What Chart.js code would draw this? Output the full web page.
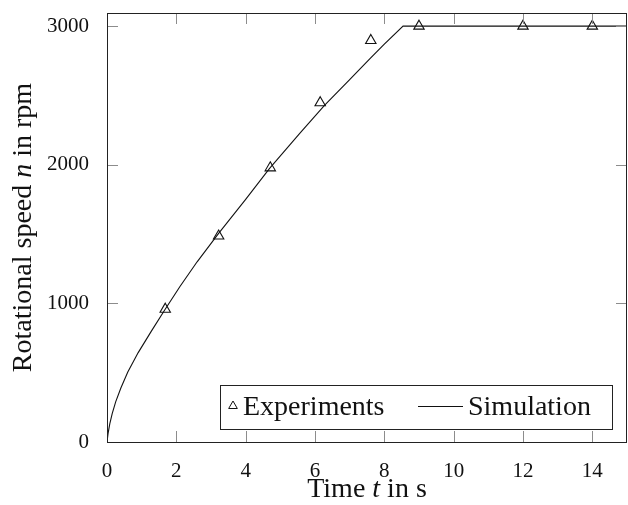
<!DOCTYPE html>
<html>
<head>
<meta charset="utf-8">
<script src="https://cdn.jsdelivr.net/npm/chart.js@4.4.1/dist/chart.umd.min.js"></script>
<style>
  html, body { margin: 0; padding: 0; background: #fff; }
  #wrap { width: 628px; height: 505px; position: relative; }
</style>
</head>
<body>
<div id="wrap"><canvas id="speedChart" width="628" height="505"></canvas></div>
<script>
// ── Data ─────────────────────────────────────────────────────
const expTime  = [1.68, 3.22, 4.71, 6.15, 7.61, 9.0, 12.0, 14.0];
const expSpeed = [958, 1486, 1978, 2448, 2897, 3000, 3000, 3000];

const simTime  = [0, 0.03, 0.08, 0.15, 0.25, 0.4, 0.6, 0.9, 1.28, 1.66, 2.1, 2.6, 3.22,
                  4.0, 4.69, 5.56, 6.28, 7.0, 7.6, 8.0, 8.54, 15];
const simSpeed = [0, 60, 130, 205, 290, 390, 505, 645, 800, 950, 1120, 1300, 1505,
                  1750, 1974, 2226, 2430, 2615, 2770, 2870, 3000, 3000];

const xTicks = [0, 2, 4, 6, 8, 10, 12, 14];
const yTicks = [0, 1000, 2000, 3000];

const SERIF = "'Liberation Serif', 'Times New Roman', serif";
const TICK_FONT = 21;
const TITLE_FONT = 28;

// ── Helpers ──────────────────────────────────────────────────
function drawMixed(ctx, parts, cx, cy) {
  // parts: [text, italic]
  const fonts = parts.map(([, it]) => `${it ? "italic " : ""}${TITLE_FONT}px ${SERIF}`);
  let total = 0;
  const widths = parts.map(([t], i) => { ctx.font = fonts[i]; const w = ctx.measureText(t).width; total += w; return w; });
  let x = cx - total / 2;
  ctx.textAlign = "left";
  ctx.textBaseline = "alphabetic";
  parts.forEach(([t], i) => { ctx.font = fonts[i]; ctx.fillText(t, x, cy); x += widths[i]; });
}

function drawTriangle(ctx, x, y, r) {
  ctx.beginPath();
  ctx.moveTo(x, y - r);
  ctx.lineTo(x + r * Math.cos(Math.PI / 6), y + r / 2);
  ctx.lineTo(x - r * Math.cos(Math.PI / 6), y + r / 2);
  ctx.closePath();
  ctx.stroke();
}

function noPadding(s) {
  s.paddingTop = 0; s.paddingBottom = 0; s.paddingLeft = 0; s.paddingRight = 0;
}

// ── Frame, inward ticks, axis titles and legend ──────────────
const framePlugin = {
  id: "frame",
  afterDatasetsDraw(chart) {
    const { ctx, chartArea: a, scales } = chart;
    ctx.save();
    ctx.strokeStyle = "#8c8c8c";
    ctx.lineWidth = 1;
    const tl = 11;
    xTicks.forEach((v) => {
      const px = Math.round(scales.x.getPixelForValue(v)) + 0.5;
      ctx.beginPath();
      ctx.moveTo(px, a.bottom); ctx.lineTo(px, a.bottom - tl);
      ctx.moveTo(px, a.top);    ctx.lineTo(px, a.top + tl);
      ctx.stroke();
    });
    yTicks.forEach((v) => {
      const py = Math.round(scales.y.getPixelForValue(v)) + 0.5;
      ctx.beginPath();
      ctx.moveTo(a.left, py);  ctx.lineTo(a.left + tl, py);
      ctx.moveTo(a.right, py); ctx.lineTo(a.right - tl, py);
      ctx.stroke();
    });
    ctx.strokeStyle = "#222";
    ctx.strokeRect(Math.round(a.left) + 0.5, Math.round(a.top) + 0.5,
                   Math.round(a.right - a.left) - 1, Math.round(a.bottom - a.top));

    // Axis titles
    ctx.fillStyle = "#111";
    drawMixed(ctx, [["Time ", false], ["t", true], [" in s", false]],
              (a.left + a.right) / 2, 497);
    ctx.save();
    ctx.translate(31, (a.top + a.bottom) / 2);
    ctx.rotate(-Math.PI / 2);
    drawMixed(ctx, [["Rotational speed ", false], ["n", true], [" in rpm", false]], 0, 0);
    ctx.restore();

    // Legend box (lower right)
    const lx = 220, ly = 385, lw = 392, lh = 44;
    ctx.fillStyle = "#fff";
    ctx.fillRect(lx, ly, lw, lh);
    ctx.strokeStyle = "#222";
    ctx.strokeRect(lx + 0.5, ly + 0.5, lw, lh);
    ctx.strokeStyle = "#111";
    drawTriangle(ctx, 233, 406, 5);
    ctx.beginPath();
    ctx.moveTo(418, 406.5); ctx.lineTo(463, 406.5);
    ctx.stroke();
    ctx.fillStyle = "#111";
    ctx.font = `${TITLE_FONT}px ${SERIF}`;
    ctx.textAlign = "left";
    ctx.textBaseline = "alphabetic";
    ctx.fillText("Experiments", 243, 415);
    ctx.fillText("Simulation", 468, 415);
    ctx.restore();
  },
};

// ── Chart ────────────────────────────────────────────────────
new Chart(document.getElementById("speedChart"), {
  type: "scatter",
  data: {
    datasets: [
      {
        label: "Simulation",
        type: "line",
        data: simTime.map((t, i) => ({ x: t, y: simSpeed[i] })),
        borderColor: "#111",
        borderWidth: 1.1,
        pointRadius: 0,
        tension: 0,
        fill: false,
      },
      {
        label: "Experiments",
        data: expTime.map((t, i) => ({ x: t, y: expSpeed[i] })),
        pointStyle: "triangle",
        pointRadius: 6,
        borderColor: "#111",
        borderWidth: 1.1,
        backgroundColor: "rgba(255,255,255,0)",
      },
    ],
  },
  options: {
    responsive: false,
    animation: false,
    devicePixelRatio: 1,
    layout: { autoPadding: false, padding: { top: 13, right: 1, left: 0, bottom: 0 } },
    plugins: {
      legend:  { display: false },
      tooltip: { enabled: false },
    },
    scales: {
      x: {
        type: "linear",
        min: 0,
        max: 15,
        afterFit: (s) => { s.height = 63; noPadding(s); },
        afterBuildTicks: (s) => { s.ticks = xTicks.map((v) => ({ value: v })); },
        ticks: {
          color: "#111",
          padding: 9,
          font: { family: SERIF, size: TICK_FONT },
          maxRotation: 0,
          autoSkip: false,
          callback: (v) => String(v),
        },
        grid:   { display: false },
        border: { display: false },
      },
      y: {
        type: "linear",
        min: 0,
        max: 3095,
        afterFit: (s) => { s.width = 107; noPadding(s); },
        afterBuildTicks: (s) => { s.ticks = yTicks.map((v) => ({ value: v })); },
        ticks: {
          color: "#111",
          padding: 10,
          font: { family: SERIF, size: TICK_FONT },
          callback: (v) => String(v),
        },
        grid:   { display: false },
        border: { display: false },
      },
    },
  },
  plugins: [framePlugin],
});
</script>
</body>
</html>
